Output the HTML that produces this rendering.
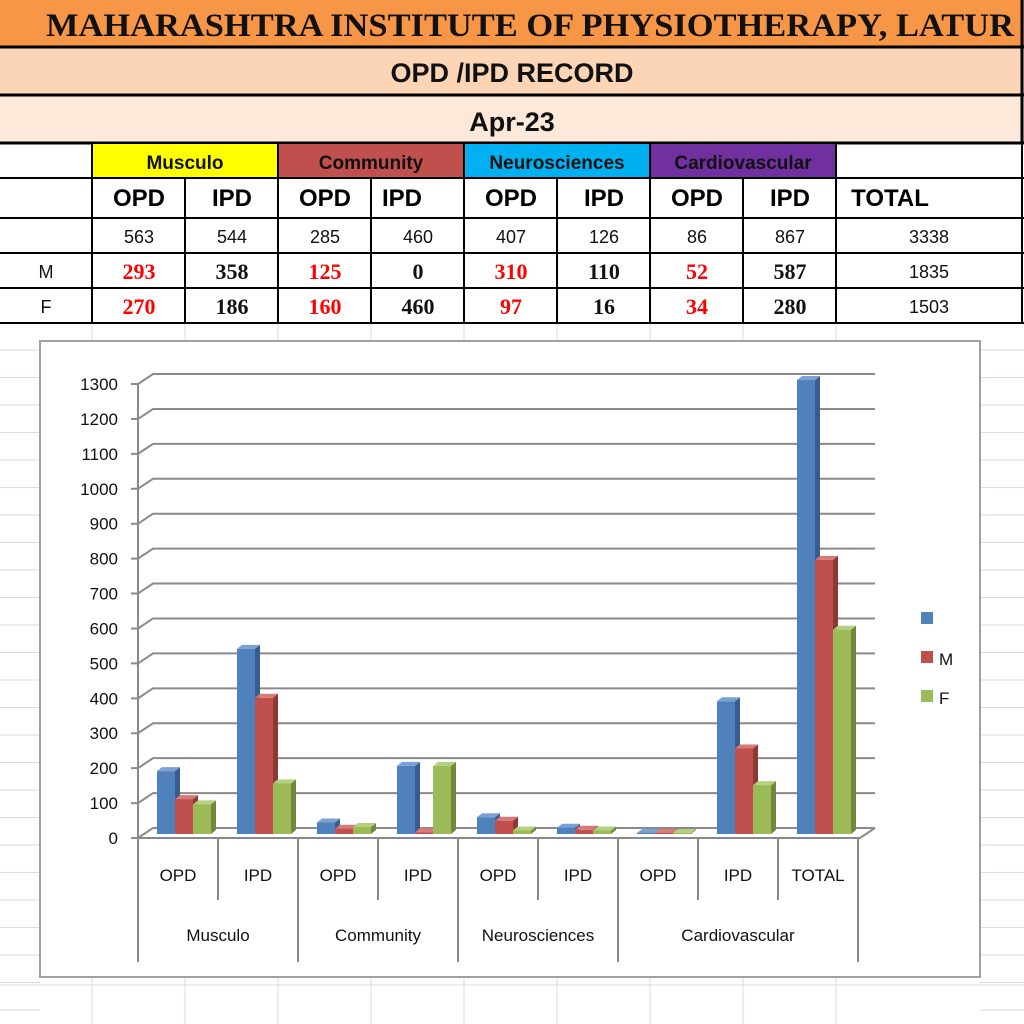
<!DOCTYPE html>
<html><head><meta charset="utf-8"><style>
body{margin:0;background:#fff;}
svg{display:block;font-family:"Liberation Sans",sans-serif;}
</style></head><body>
<svg id="s" width="1024" height="1024" viewBox="0 0 1024 1024" xmlns="http://www.w3.org/2000/svg">
<rect width="1024" height="1024" fill="#fff"/>
<g stroke="#d6dbe8" stroke-width="1" id="bg"></g>
<rect x="0" y="0" width="1024" height="46" fill="#f79646"/>
<rect x="0" y="48" width="1024" height="46" fill="#fbd5b5"/>
<rect x="0" y="96" width="1024" height="46" fill="#fde9d9"/>
<g stroke="#000" stroke-width="3">
<line x1="0" y1="47" x2="1024" y2="47"/><line x1="0" y1="95" x2="1024" y2="95"/><line x1="0" y1="143" x2="1024" y2="143"/>
<line x1="1022" y1="0" x2="1022" y2="143"/>
</g>
<text x="46" y="36" font-family="Liberation Serif,serif" font-weight="bold" font-size="33" textLength="968" lengthAdjust="spacingAndGlyphs" fill="#111">MAHARASHTRA INSTITUTE OF PHYSIOTHERAPY, LATUR</text>
<text x="512" y="82" font-weight="bold" font-size="27" text-anchor="middle" fill="#111">OPD /IPD RECORD</text>
<text x="512" y="131" font-weight="bold" font-size="27" text-anchor="middle" fill="#111">Apr-23</text>
<rect x="93" y="144" width="185" height="33" fill="#ffff00"/>
<rect x="278" y="144" width="186" height="33" fill="#c0504d"/>
<rect x="464" y="144" width="186" height="33" fill="#00b0f0"/>
<rect x="650" y="144" width="186" height="33" fill="#7030a0"/>
<g font-size="19" font-weight="bold" text-anchor="middle" fill="#111">
<text x="185" y="169">Musculo</text><text x="371" y="169">Community</text><text x="557" y="169">Neurosciences</text><text x="743" y="169">Cardiovascular</text>
</g>
<g stroke="#000" stroke-width="2" fill="none">
<line x1="0" y1="178" x2="1024" y2="178"/><line x1="0" y1="218" x2="1024" y2="218"/><line x1="0" y1="253" x2="1024" y2="253"/><line x1="0" y1="288" x2="1024" y2="288"/><line x1="0" y1="323" x2="1024" y2="323"/>
<line x1="92" y1="143" x2="92" y2="323"/><line x1="185" y1="178" x2="185" y2="323"/><line x1="278" y1="143" x2="278" y2="323"/><line x1="371" y1="178" x2="371" y2="323"/><line x1="464" y1="143" x2="464" y2="323"/><line x1="557" y1="178" x2="557" y2="323"/><line x1="650" y1="143" x2="650" y2="323"/><line x1="743" y1="178" x2="743" y2="323"/><line x1="836" y1="143" x2="836" y2="323"/><line x1="1022" y1="143" x2="1022" y2="323"/>
</g>
<g font-size="24" font-weight="bold" text-anchor="middle" fill="#000">
<text x="139" y="206">OPD</text><text x="232" y="206">IPD</text><text x="325" y="206">OPD</text><text x="402" y="206">IPD</text><text x="511" y="206">OPD</text><text x="604" y="206">IPD</text><text x="697" y="206">OPD</text><text x="790" y="206">IPD</text><text x="890" y="206">TOTAL</text>
</g>
<g font-size="18" text-anchor="middle" fill="#111">
<text x="139" y="243">563</text><text x="232" y="243">544</text><text x="325" y="243">285</text><text x="418" y="243">460</text><text x="511" y="243">407</text><text x="604" y="243">126</text><text x="697" y="243">86</text><text x="790" y="243">867</text><text x="929" y="243">3338</text>
<text x="46" y="278">M</text><text x="46" y="313">F</text>
<text x="929" y="278">1835</text><text x="929" y="313">1503</text>
</g>
<g font-family="Liberation Serif,serif" font-weight="bold" font-size="22" text-anchor="middle">
<g fill="#ff0000"><text x="139" y="279">293</text><text x="325" y="279">125</text><text x="511" y="279">310</text><text x="697" y="279">52</text>
<text x="139" y="314">270</text><text x="325" y="314">160</text><text x="511" y="314">97</text><text x="697" y="314">34</text></g>
<g fill="#111"><text x="232" y="279">358</text><text x="418" y="279">0</text><text x="604" y="279">110</text><text x="790" y="279">587</text>
<text x="232" y="314">186</text><text x="418" y="314">460</text><text x="604" y="314">16</text><text x="790" y="314">280</text></g>
</g>
<rect x="40" y="341" width="940" height="636" fill="#fff" stroke="#a0a0a0" stroke-width="2"/>
<g id="grid" stroke="#8a8a8a" stroke-width="2" fill="none"></g>
<g id="bars"></g>
<g id="lab" font-size="17" fill="#111" text-anchor="end"></g>
<g stroke="#8a8a8a" stroke-width="2">
<line x1="138" y1="838" x2="138" y2="962"/>
<line x1="218" y1="838" x2="218" y2="900"/><line x1="298" y1="838" x2="298" y2="962"/><line x1="378" y1="838" x2="378" y2="900"/><line x1="458" y1="838" x2="458" y2="962"/><line x1="538" y1="838" x2="538" y2="900"/><line x1="618" y1="838" x2="618" y2="962"/><line x1="698" y1="838" x2="698" y2="900"/><line x1="778" y1="838" x2="778" y2="900"/><line x1="858" y1="838" x2="858" y2="962"/>
</g>
<g font-size="17" fill="#111" text-anchor="middle">
<text x="178" y="881">OPD</text><text x="258" y="881">IPD</text><text x="338" y="881">OPD</text><text x="418" y="881">IPD</text><text x="498" y="881">OPD</text><text x="578" y="881">IPD</text><text x="658" y="881">OPD</text><text x="738" y="881">IPD</text><text x="818" y="881">TOTAL</text>
<text x="218" y="941">Musculo</text><text x="378" y="941">Community</text><text x="538" y="941">Neurosciences</text><text x="738" y="941">Cardiovascular</text>
</g>
<rect x="921" y="612" width="12" height="12" fill="#4f81bd"/>
<rect x="921" y="651" width="12" height="12" fill="#c0504d"/>
<rect x="921" y="690" width="12" height="12" fill="#9bbb59"/>
<g font-size="17" fill="#111"><text x="939" y="665">M</text><text x="939" y="704">F</text></g>
</svg>
<script>
var NS="http://www.w3.org/2000/svg";
function el(p,t,a){var e=document.createElementNS(NS,t);for(var k in a)e.setAttribute(k,a[k]);p.appendChild(e);return e;}
var bg=document.getElementById('bg');
[92,185,278,371,464,557,650,743,836].forEach(function(x){el(bg,'line',{x1:x,y1:323,x2:x,y2:1024});});
for(var y=350;y<1024;y+=27.5){el(bg,'line',{x1:980,y1:y,x2:1024,y2:y});el(bg,'line',{x1:0,y1:y,x2:40,y2:y});}
el(bg,'line',{x1:0,y1:985,x2:1024,y2:985});
var g=document.getElementById('grid'),lab=document.getElementById('lab');
var s=34.92;
for(var k=0;k<=13;k++){var yf=838-s*k,yb=828-s*k;
el(g,'polyline',{points:'131,'+yf+' 138,'+yf+' 153,'+yb+' 875,'+yb});
var t=el(lab,'text',{x:118,y:yf+6});t.textContent=String(k*100);}
el(g,'line',{x1:138,y1:838,x2:138,y2:384});
el(g,'polyline',{points:'138,838 860,838 875,828'});
var data=[[180,100,85],[530,390,145],[33,15,20],[195,5,195],[48,38,10],[18,12,10],[3,3,3],[380,245,140],[1300,785,585]];
var cols=[['#4f81bd','#385d8a','#7aa0d4'],['#c0504d','#8c3836','#d67b78'],['#9bbb59','#71893f','#b5d07f']];
var b=document.getElementById('bars');
data.forEach(function(d,i){var c=178+80*i;d.forEach(function(v,j){
var x=c-21+18*j,base=834,top=base-v*0.3492,w=18,dx=5,dy=4;
el(b,'polygon',{points:(x+w)+','+top+' '+(x+w+dx)+','+(top-dy)+' '+(x+w+dx)+','+(base-dy)+' '+(x+w)+','+base,fill:cols[j][1]});
el(b,'polygon',{points:x+','+top+' '+(x+dx)+','+(top-dy)+' '+(x+w+dx)+','+(top-dy)+' '+(x+w)+','+top,fill:cols[j][2]});
el(b,'rect',{x:x,y:top,width:w,height:base-top,fill:cols[j][0]});
});});
</script>
</body></html>
